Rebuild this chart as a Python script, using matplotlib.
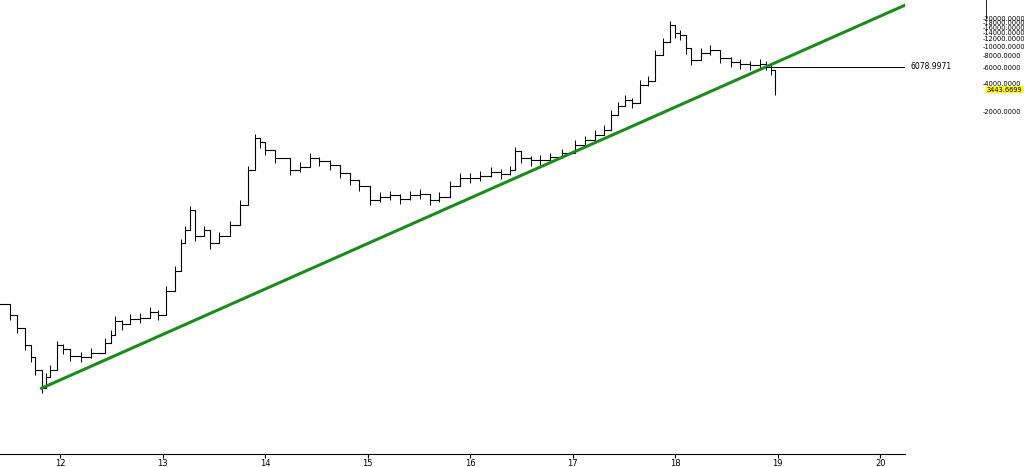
import matplotlib.pyplot as plt
import numpy as np

# approximate BTC price (year offset, price)
years = [11.41, 11.51, 11.58, 11.66, 11.72, 11.76, 11.82, 11.86, 11.90, 11.97, 12.03, 12.1, 12.2, 12.3,
         12.44, 12.5, 12.54, 12.6, 12.68, 12.78, 12.88, 12.96, 13.03, 13.12, 13.18, 13.22, 13.27, 13.32,
         13.4, 13.46, 13.55, 13.66, 13.76, 13.83, 13.9, 13.95, 14.0, 14.1, 14.24, 14.34, 14.44, 14.53,
         14.63, 14.73, 14.83, 14.92, 15.02, 15.12, 15.22, 15.32, 15.41, 15.51, 15.61, 15.7, 15.8, 15.9,
         16.0, 16.1, 16.2, 16.3, 16.39, 16.44, 16.5, 16.59, 16.68, 16.78, 16.9, 17.02, 17.12, 17.22,
         17.3, 17.37, 17.44, 17.51, 17.58, 17.66, 17.73, 17.8, 17.88, 17.95, 18.0, 18.05, 18.1, 18.15,
         18.25, 18.34, 18.44, 18.54, 18.63, 18.73, 18.83, 18.88, 18.93, 18.97]
price = [18, 14, 10, 6.6, 5, 3.6, 2.3, 3.0, 3.6, 6.6, 6.0, 5.1, 5.0, 5.5,
         7.0, 8.5, 12, 11, 12.6, 13, 15, 14, 25, 41, 80, 110, 180, 97,
         110, 80, 95, 125, 205, 480, 1050, 950, 790, 650, 480, 520, 650, 600,
         550, 450, 380, 330, 230, 250, 260, 240, 260, 270, 230, 250, 330, 400,
         400, 420, 460, 440, 480, 760, 650, 610, 620, 660, 730, 890, 1000, 1140,
         1300, 1860, 2300, 2680, 2500, 3870, 4300, 8100, 11000, 16800, 14000, 13200, 9500, 7200,
         8500, 9200, 7500, 6800, 6500, 6300, 6500, 6300, 5600, 3443.67]

trend_x = [11.82, 20.24]
trend_y = [2.3, 27400]
level = 6078.9971
last = 3443.6699
xticks = [12, 13, 14, 15, 16, 17, 18, 19, 20]
yticks = [2000, 4000, 6000, 8000, 10000, 12000, 14000, 16000, 18000, 20000]

fig = plt.figure(figsize=(10.24, 4.67), dpi=100)
ax = fig.add_axes([0.0, 0.028, 905 / 1024, 0.972])
ax.set_yscale("log")
ax.set_xlim(11.415, 20.24)
ax.set_ylim(0.46, 31100)

ax.plot(years, price, color="black", lw=0.8, drawstyle="steps-post")
ax.vlines(years, np.array(price) * 0.88, np.array(price) * 1.12, color="black", lw=0.7)
ax.plot(trend_x, trend_y, color="#1e8a1e", lw=2.2)
ax.plot([18.88, 20.24], [level, level], color="black", lw=0.7)
ax.text(20.29, level, "6078.9971", fontsize=5.5, va="center")

for s in ["top", "left", "right"]:
    ax.spines[s].set_visible(False)
ax.spines["bottom"].set_linewidth(0.8)
ax.yaxis.tick_right()
ax.set_yticks(yticks)
ax.set_yticklabels(["-%d.0000" % v for v in yticks], fontsize=4.8)
ax.yaxis.set_minor_locator(plt.NullLocator())
ax.tick_params(axis="y", length=0, pad=56)
ax.set_xticks(xticks)
ax.set_xticklabels([str(v) for v in xticks], fontsize=6)
ax.tick_params(axis="x", length=3, pad=1)
ax.text(1.0905, last, "%.4f" % last, transform=ax.get_yaxis_transform(), fontsize=4.8,
        va="center", bbox=dict(facecolor="yellow", edgecolor="none", pad=0.5))
fig.add_artist(plt.Line2D([986 / 1024, 986 / 1024], [1 - 18 / 467, 1.0], color="black", lw=0.6))

fig.savefig("out.png", dpi=100)
